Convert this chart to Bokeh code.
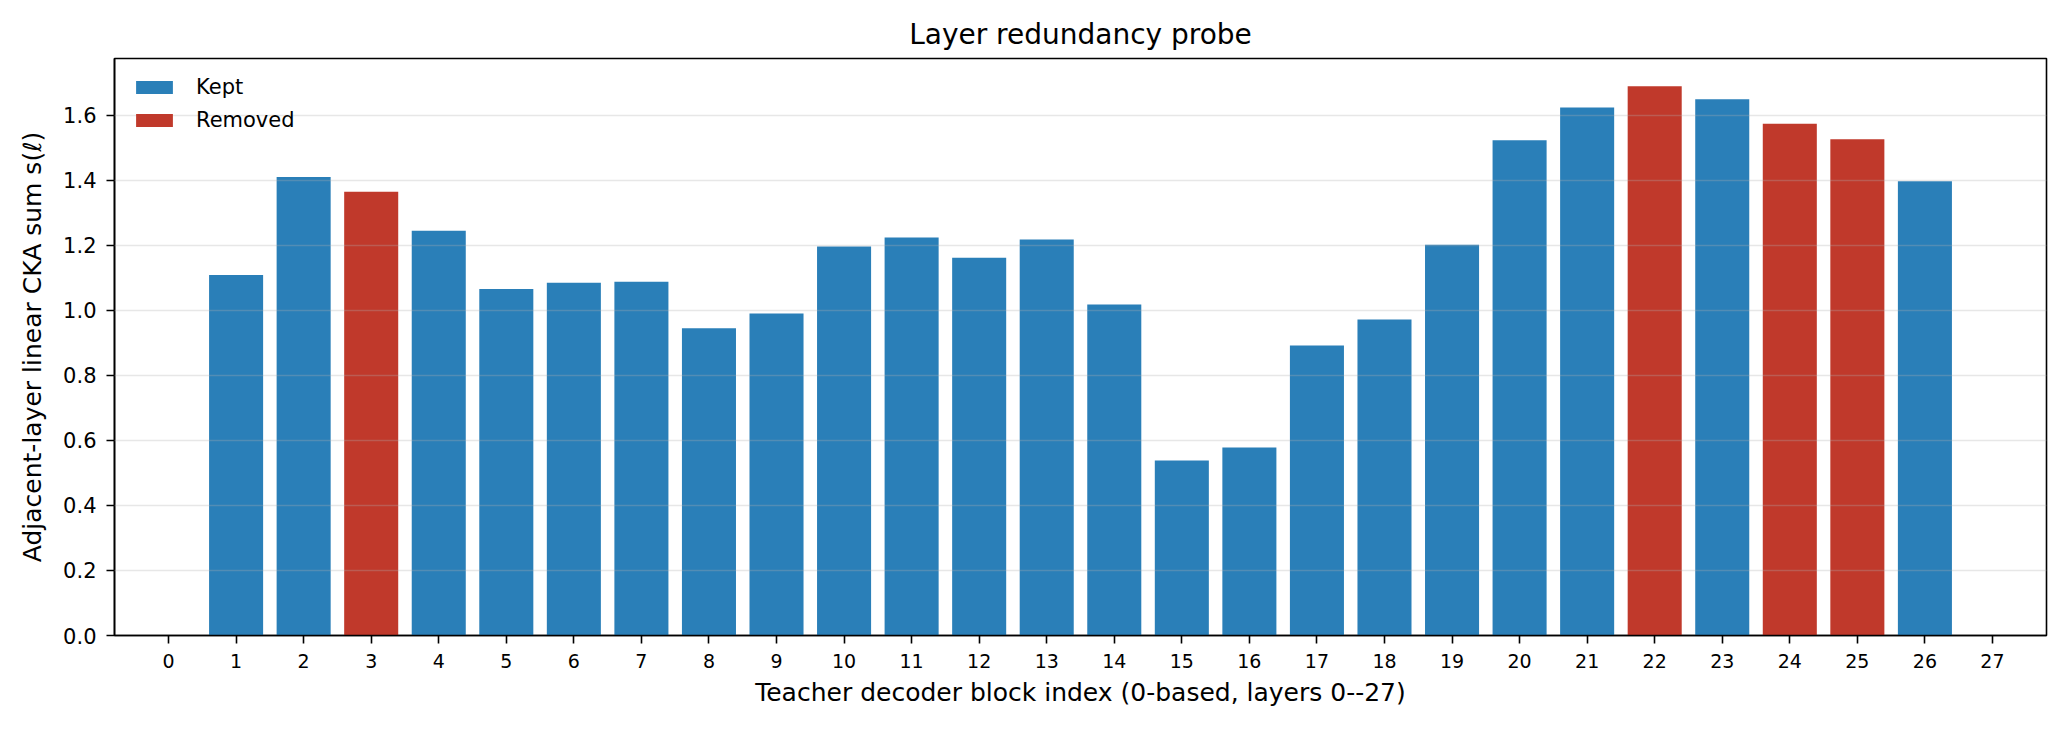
from bokeh.plotting import figure
from bokeh.models import ColumnDataSource, Range1d, FixedTicker, NumeralTickFormatter, Legend, LegendItem
from bokeh.embed import file_html
from bokeh.resources import INLINE

# ---- data ----
layer_ticks = list(range(0, 28))
layers = list(range(1, 27))
cka_sum = [1.109, 1.410, 1.365, 1.245, 1.066, 1.085, 1.088, 0.945, 0.990, 1.196,
           1.224, 1.162, 1.218, 1.018, 0.538, 0.578, 0.892, 0.972, 1.202, 1.523,
           1.624, 1.689, 1.649, 1.574, 1.526, 1.397]
removed_layers = [3, 22, 24, 25]
y_ticks = [0.0, 0.2, 0.4, 0.6, 0.8, 1.0, 1.2, 1.4, 1.6]

KEPT_COLOR = "#2a7fb8"
REMOVED_COLOR = "#c0392b"
FONT = "DejaVu Sans"

kept_src = ColumnDataSource(dict(
    x=[l for l in layers if l not in removed_layers],
    top=[v for l, v in zip(layers, cka_sum) if l not in removed_layers]))
rem_src = ColumnDataSource(dict(
    x=[l for l in layers if l in removed_layers],
    top=[v for l, v in zip(layers, cka_sum) if l in removed_layers]))

p = figure(width=2066, height=729, output_backend="svg", toolbar_location=None,
           x_range=Range1d(-0.8, 27.8), y_range=Range1d(0, 1.7745),
           title="Layer redundancy probe",
           min_border_left=114, min_border_right=20, min_border_top=58, min_border_bottom=94)
p.background_fill_color = "white"
p.border_fill_color = "white"
p.outline_line_color = "black"
p.outline_line_width = 1.6

p.title.align = "center"
p.title.text_font = FONT
p.title.text_font_style = "normal"
p.title.text_font_size = "28px"
p.title.text_color = "black"
p.title.standoff = 16

r_kept = p.vbar(x="x", top="top", width=0.8, source=kept_src, fill_color=KEPT_COLOR, line_color=None)
r_rem = p.vbar(x="x", top="top", width=0.8, source=rem_src, fill_color=REMOVED_COLOR, line_color=None)

# grid
p.xgrid.visible = False
p.ygrid.ticker = FixedTicker(ticks=y_ticks)
p.ygrid.grid_line_color = "#b0b0b0"
p.ygrid.grid_line_alpha = 0.3
p.ygrid.grid_line_width = 1.6
p.ygrid.level = "overlay"

# axes
for ax in (p.xaxis[0], p.yaxis[0]):
    ax.axis_line_color = "black"
    ax.axis_line_width = 1.6
    ax.major_tick_line_width = 1.6
    ax.major_tick_line_color = "black"
    ax.major_tick_out = 8
    ax.major_tick_in = 0
    ax.minor_tick_line_color = None
    ax.major_label_text_font = FONT
    ax.major_label_text_color = "black"
    ax.axis_label_text_font = FONT
    ax.axis_label_text_font_style = "normal"
    ax.axis_label_text_color = "black"
    ax.axis_label_text_font_size = "25px"

p.xaxis.ticker = FixedTicker(ticks=layer_ticks)
p.xaxis.major_label_text_font_size = "19px"
p.xaxis.major_label_standoff = 10
p.xaxis.axis_label = "Teacher decoder block index (0-based, layers 0--27)"
p.xaxis.axis_label_standoff = 7

p.yaxis.ticker = FixedTicker(ticks=y_ticks)
p.yaxis.formatter = NumeralTickFormatter(format="0.0")
p.yaxis.major_label_text_font_size = "21px"
p.yaxis.major_label_standoff = 10
p.yaxis.axis_label = "Adjacent-layer linear CKA sum s(\u2113)"
p.yaxis.axis_label_standoff = 13

legend = Legend(items=[LegendItem(label="Kept", renderers=[r_kept]),
                       LegendItem(label="Removed", renderers=[r_rem])],
                location="top_left")
legend.border_line_color = None
legend.background_fill_alpha = 0
legend.label_text_font = FONT
legend.label_text_font_size = "21px"
legend.label_text_color = "black"
legend.glyph_width = 46
legend.glyph_height = 16
legend.label_standoff = 19
legend.spacing = 9
legend.margin = 17
legend.padding = 6
p.add_layout(legend)

open("out.html", "w").write(file_html(p, INLINE))
